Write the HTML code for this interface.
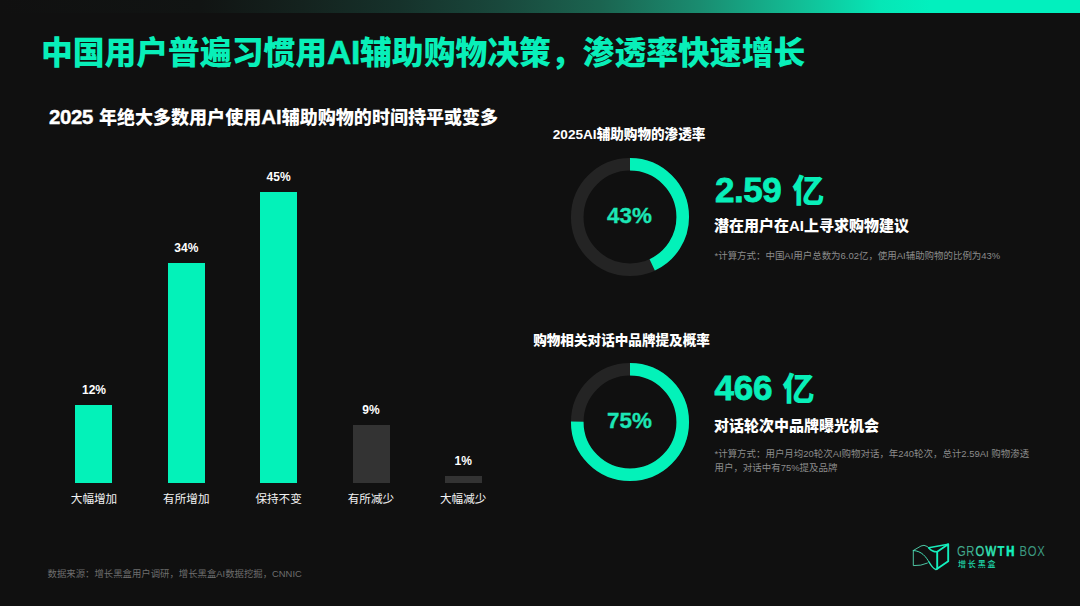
<!DOCTYPE html>
<html lang="zh-CN">
<head>
<meta charset="utf-8">
<title>中国用户普遍习惯用AI辅助购物决策，渗透率快速增长</title>
<style>
  html,body{margin:0;padding:0;}
  body{width:1080px;height:606px;background:#101010;overflow:hidden;position:relative;
       font-family:"Liberation Sans","Noto Sans CJK SC",sans-serif;color:#fff;}
  .abs{position:absolute;white-space:nowrap;}
  .topbar{position:absolute;left:0;top:0;width:1080px;height:13px;
          background:linear-gradient(90deg,#101010 0px,#111413 200px,#14221e 300px,#16322b 400px,#19483c 500px,#1b6450 600px,#1a8c70 700px,#12be96 800px,#06e6b6 880px,#02f0be 930px,#02f0be 1080px);}
  .title{left:40.9px;top:30px;font-size:31.8px;font-weight:900;color:#08efb9;line-height:46px;letter-spacing:0;}
  .title .tl{font-size:33.6px;-webkit-text-stroke:0.6px #08efb9;margin:0;letter-spacing:-0.3px;}
  .sub{left:49px;top:103.8px;font-size:18.05px;font-weight:900;line-height:26px;}
  .sub .l{font-size:19px;}
  .sub .l1{font-size:20.4px;letter-spacing:-0.3px;margin-right:0.4px;-webkit-text-stroke:0.4px #fff;}
  .sub .l2{font-size:20.5px;-webkit-text-stroke:0.3px #fff;}
  .bar{position:absolute;width:37px;background:#03f2b9;}
  .bar.g{background:#333333;}
  .val{position:absolute;width:80px;text-align:center;font-size:12px;font-weight:700;line-height:14px;color:#fff;}
  .cat{position:absolute;width:80px;text-align:center;font-size:11.6px;font-weight:400;line-height:16px;color:#f2f2f2;}
  .h2{font-size:13.6px;font-weight:900;line-height:20px;}
  .big{font-size:35px;font-weight:700;color:#08efb9;line-height:40px;letter-spacing:-0.5px;-webkit-text-stroke:0.8px #08efb9;}
  .yi{font-size:32px;font-weight:900;color:#08efb9;line-height:40px;}
  .desc{font-size:15px;font-weight:900;line-height:22px;}
  .note{font-size:9.46px;font-weight:400;line-height:13.2px;color:#8c8c8c;white-space:normal;}
  .pct{font-size:22.4px;font-weight:700;color:#1ce6b6;-webkit-text-stroke:0.3px #1ce6b6;line-height:28px;width:118px;text-align:center;}
  .src{left:47.6px;top:566.9px;font-size:9.4px;line-height:14px;color:#6e6e6e;}
</style>
</head>
<body>
<div class="topbar"></div>

<div class="abs title">中国用户普遍习惯用<span class="tl">AI</span>辅助购物决策，渗透率快速增长</div>
<div class="abs sub"><span class="l l1">2025 </span>年绝大多数用户使用<span class="l l2">AI</span>辅助购物的时间持平或变多</div>

<!-- bar chart -->
<div class="bar" style="left:75.3px;top:405.4px;height:77.6px;"></div>
<div class="bar" style="left:167.8px;top:263.4px;height:219.6px;"></div>
<div class="bar" style="left:260.1px;top:192.3px;height:290.7px;"></div>
<div class="bar g" style="left:353px;top:424.9px;height:58.1px;"></div>
<div class="bar g" style="left:444.9px;top:475.9px;height:7.1px;"></div>

<div class="val" style="left:54px;top:383px;">12%</div>
<div class="val" style="left:146.3px;top:241px;">34%</div>
<div class="val" style="left:238.6px;top:170px;">45%</div>
<div class="val" style="left:330.9px;top:402.5px;">9%</div>
<div class="val" style="left:423.2px;top:454px;">1%</div>

<div class="cat" style="left:54px;top:491px;">大幅增加</div>
<div class="cat" style="left:146.3px;top:491px;">有所增加</div>
<div class="cat" style="left:238.6px;top:491px;">保持不变</div>
<div class="cat" style="left:330.9px;top:491px;">有所减少</div>
<div class="cat" style="left:423.2px;top:491px;">大幅减少</div>

<!-- donut 1 -->
<div class="abs h2" style="left:552.8px;top:124.5px;">2025AI辅助购物的渗透率</div>
<svg class="abs" style="left:559.5px;top:146.5px;" width="140" height="140" viewBox="0 0 140 140">
  <circle cx="70" cy="70" r="52.75" fill="none" stroke="#242424" stroke-width="12.6"/>
  <circle cx="70" cy="70" r="52.75" fill="none" stroke="#03f2b9" stroke-width="12.6"
          stroke-dasharray="142.52 400" transform="rotate(-90 70 70)"/>
</svg>
<div class="abs pct" style="left:570.5px;top:201.8px;">43%</div>
<div class="abs big" style="left:715px;top:169.5px;">2.59</div>
<div class="abs yi" style="left:792.2px;top:170.9px;">亿</div>
<div class="abs desc" style="left:714px;top:215px;">潜在用户在AI上寻求购物建议</div>
<div class="abs note" style="left:714.5px;top:248.5px;width:330px;">*计算方式：中国AI用户总数为6.02亿，使用AI辅助购物的比例为43%</div>

<!-- donut 2 -->
<div class="abs h2" style="left:533.2px;top:330.5px;">购物相关对话中品牌提及概率</div>
<svg class="abs" style="left:559.5px;top:352.1px;" width="140" height="140" viewBox="0 0 140 140">
  <circle cx="70" cy="70" r="52.75" fill="none" stroke="#242424" stroke-width="12.6"/>
  <circle cx="70" cy="70" r="52.75" fill="none" stroke="#03f2b9" stroke-width="12.6"
          stroke-dasharray="248.58 400" transform="rotate(-90 70 70)"/>
</svg>
<div class="abs pct" style="left:570.5px;top:407.3px;">75%</div>
<div class="abs big" style="left:714.4px;top:368px;letter-spacing:-0.2px;">466</div>
<div class="abs yi" style="left:782.6px;top:369.1px;">亿</div>
<div class="abs desc" style="left:714px;top:415px;">对话轮次中品牌曝光机会</div>
<div class="abs note" style="left:714.5px;top:447.3px;width:319px;">*计算方式：用户月均20轮次AI购物对话，年240轮次，总计2.59AI 购物渗透用户，对话中有75%提及品牌</div>

<div class="abs src">数据来源：增长黑盒用户调研，增长黑盒AI数据挖掘，CNNIC</div>

<!-- logo -->
<svg class="abs" style="left:905px;top:535px;" width="150" height="45" viewBox="905 535 150 45" role="img" aria-label="GROWTH BOX 增长黑盒">
  <title>GROWTH BOX 增长黑盒</title>
  <g fill="none" stroke-linejoin="round" stroke-linecap="round">
    <path d="M913.3 550.5 L921 546 Q924 544.4 927 546.4 L928.7 547.7" stroke="#55d8b3" stroke-width="0.9"/>
    <path d="M913.3 550.5 L913.3 565.6 Q921 566 927.4 563.1" stroke="#55d8b3" stroke-width="0.9"/>
    <path d="M913.3 550.5 C922 551,926 557,929 562" stroke="#45dcb4" stroke-width="1"/>
    <path d="M929 562 C931 565.5,933 568.5,935.6 569.4 Q936.5 569.6 937.2 568.7" stroke="#25e8b9" stroke-width="1.5"/>
    <path d="M928.7 547.7 Q932 552 937.2 551.8" stroke="#19ebbb" stroke-width="1.5"/>
    <path d="M928.7 547.7 L948.2 544.3" stroke="#19ebbb" stroke-width="1.5"/>
    <path d="M937.2 551.8 L948.2 544.3 L948.2 561.2 L937.2 568.7 Z" stroke="#12f0be" stroke-width="1.9"/>
  </g>
  <text transform="translate(0 555.7) scale(0.78 1)" text-anchor="middle" font-family="'Liberation Sans',sans-serif" font-size="14.4" x="1232.69 1244.10 1256.15 1270.13 1283.21 1295.13 1303.33 1311.92 1323.21 1334.74" y="0"><tspan fill="#42a88b">GR</tspan><tspan fill="#3fd0a8" stroke="#3fd0a8" stroke-width="0.3">O</tspan><tspan fill="#2fe3b4" stroke="#2fe3b4" stroke-width="0.7">W</tspan><tspan font-weight="700" fill="#1fecb9" stroke="#1fecb9" stroke-width="0.2">T</tspan><tspan font-weight="700" fill="#14f0bc" stroke="#14f0bc" stroke-width="0.7">H</tspan><tspan fill="#3c9a80"> BOX</tspan></text>
  <text x="957.9" y="567.4" font-family="'Noto Sans CJK SC',sans-serif" font-size="8" font-weight="500" fill="#1fd6aa" letter-spacing="1.9">增长黑盒</text>
</svg>
</body>
</html>
